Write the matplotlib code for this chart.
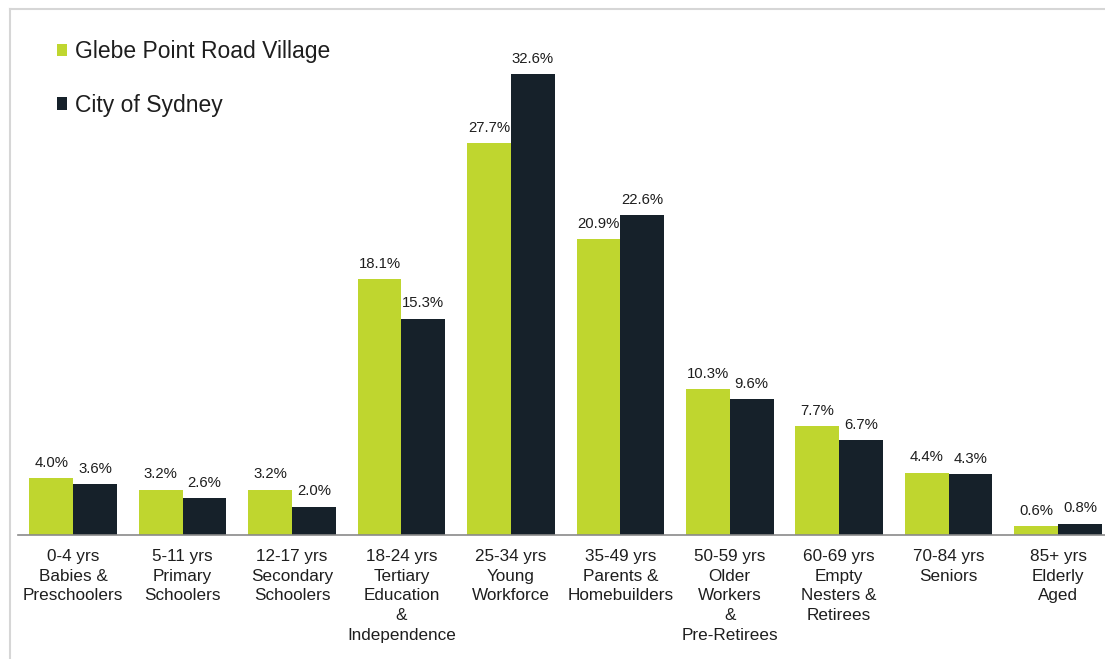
import numpy as np
import matplotlib
matplotlib.use("Agg")
import matplotlib.pyplot as plt
from matplotlib.lines import Line2D

plt.rcParams['font.family'] = ['Liberation Sans', 'DejaVu Sans']

# data
groups = ["0-4 yrs\nBabies &\nPreschoolers",
          "5-11 yrs\nPrimary\nSchoolers",
          "12-17 yrs\nSecondary\nSchoolers",
          "18-24 yrs\nTertiary\nEducation\n&\nIndependence",
          "25-34 yrs\nYoung\nWorkforce",
          "35-49 yrs\nParents &\nHomebuilders",
          "50-59 yrs\nOlder\nWorkers\n&\nPre-Retirees",
          "60-69 yrs\nEmpty\nNesters &\nRetirees",
          "70-84 yrs\nSeniors",
          "85+ yrs\nElderly\nAged"]
glebe = [4.0, 3.2, 3.2, 18.1, 27.7, 20.9, 10.3, 7.7, 4.4, 0.6]
sydney = [3.6, 2.6, 2.0, 15.3, 32.6, 22.6, 9.6, 6.7, 4.3, 0.8]
series_names = ["Glebe Point Road Village", "City of Sydney"]

green = "#bfd62f"
navy = "#16212a"
txt = "#1e1e1e"

fig = plt.figure(figsize=(11.05, 6.59), dpi=100)
ax = fig.add_axes([0.0166, 0.1882, 0.9905, 0.7511])

x = np.arange(len(groups))
w = 0.4
b1 = ax.bar(x - w / 2, glebe, w, color=green, label=series_names[0])
b2 = ax.bar(x + w / 2, sydney, w, color=navy, label=series_names[1])

for bars in (b1, b2):
    ax.bar_label(bars, fmt="%.1f%%", padding=6, fontsize=10.7, color=txt)

ax.set_xlim(-0.5, len(groups) - 0.5)
ax.set_ylim(0, 35)
ax.set_xticks(x, groups, fontsize=12.3, color=txt, linespacing=1.4)
ax.tick_params(axis="x", length=0, pad=10)
ax.set_yticks([])
for s in ("top", "right", "left"):
    ax.spines[s].set_visible(False)
ax.spines["bottom"].set_color("#8a8a8a")
ax.spines["bottom"].set_linewidth(1.2)

leg = ax.legend(loc="upper left", bbox_to_anchor=(0.033, 0.97),
                bbox_transform=fig.transFigure, frameon=False,
                fontsize=16.5, handlelength=0.45, handleheight=0.45,
                handletextpad=0.35, labelspacing=1.32)
for t in leg.get_texts():
    t.set_color(txt)

# thin grey frame of the original chart box
fig.add_artist(Line2D([0.009, 1.0], [0.987, 0.987], color="#d6d6d6", lw=1.5,
                      transform=fig.transFigure))
fig.add_artist(Line2D([0.009, 0.009], [0.0, 0.987], color="#d6d6d6", lw=1.5,
                      transform=fig.transFigure))

fig.savefig("out.png", dpi=100)
